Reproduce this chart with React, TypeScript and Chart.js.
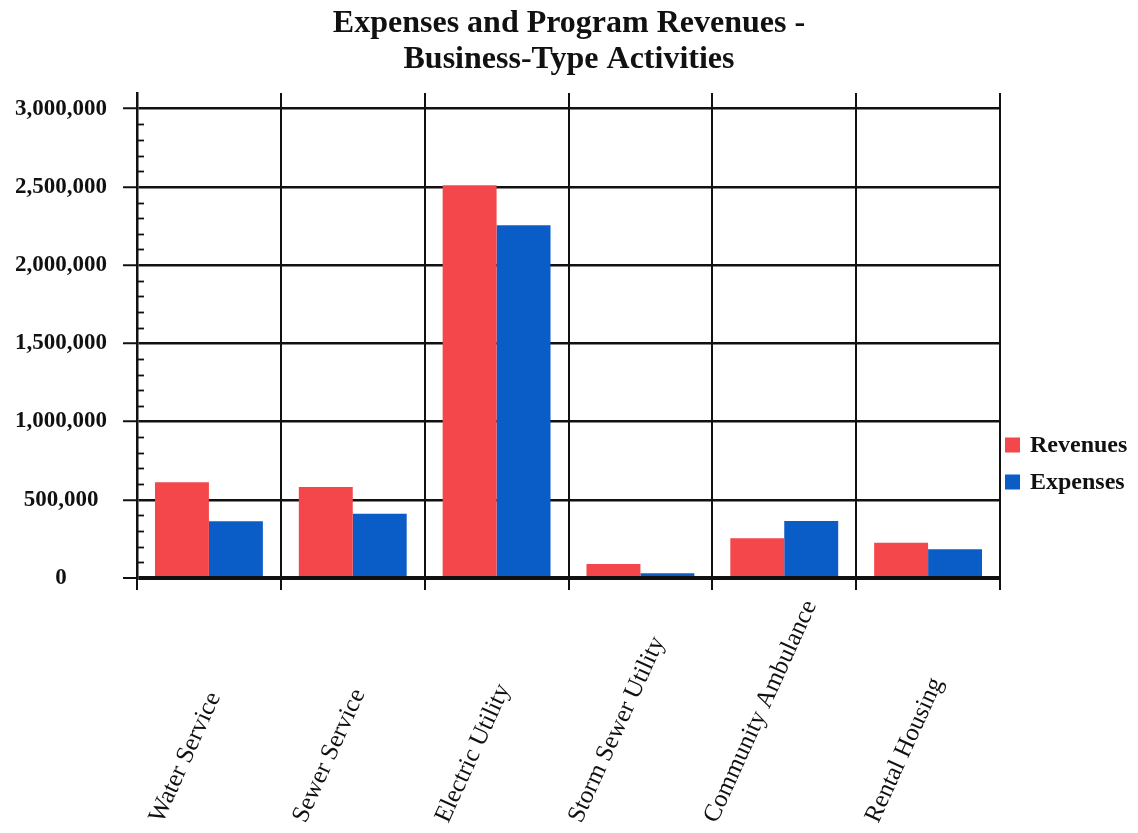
import React, { useEffect, useRef } from 'react';
import { Chart, registerables } from 'chart.js';

Chart.register(...registerables);

const categories = [
  'Water Service',
  'Sewer Service',
  'Electric Utility',
  'Storm Sewer Utility',
  'Community Ambulance',
  'Rental Housing',
];
const revenues = [612000, 582000, 2510000, 90000, 254000, 226000];
const expenses = [362000, 411000, 2255000, 30000, 365000, 183000];
const seriesNames = ['Revenues', 'Expenses'];
const seriesColors = ['#F4474B', '#0A5CC7'];
const titleLines = ['Expenses and Program Revenues -', 'Business-Type Activities'];
const yTickValues = [0, 500000, 1000000, 1500000, 2000000, 2500000, 3000000];
const yAxisTop = 3100000;
const yMinorStep = 100000;

const W = 1138;
const H = 833;
const SERIF = '"Liberation Serif", "Times New Roman", serif';

const minorTicksPlugin = {
  id: 'minorTicks',
  afterDraw(chart: any) {
    const ys = chart.scales.y;
    const a = chart.chartArea;
    const ctx = chart.ctx;
    const top = yTickValues[yTickValues.length - 1];
    ctx.save();
    ctx.strokeStyle = '#111';
    ctx.lineWidth = 1.8;
    for (let v = yMinorStep; v < top; v += yMinorStep) {
      if (yTickValues.includes(v)) continue;
      const y = Math.round(ys.getPixelForValue(v)) + 0.5;
      ctx.beginPath();
      ctx.moveTo(a.left, y);
      ctx.lineTo(a.left + 7, y);
      ctx.stroke();
    }
    ctx.restore();
  },
};

const xLabelsPlugin = {
  id: 'slantedLabels',
  afterDraw(chart: any) {
    const xs = chart.scales.x;
    const a = chart.chartArea;
    const ctx = chart.ctx;
    const th = (65.5 * Math.PI) / 180;
    ctx.save();
    ctx.font = `25px ${SERIF}`;
    ctx.fillStyle = '#111';
    const labels = chart.data.labels as string[];
    labels.forEach((lab, i) => {
      const c = xs.getPixelForTick(i);
      const w = ctx.measureText(lab).width;
      const px = c - 17.5 - (w * Math.cos(th)) / 2;
      const py = a.bottom + 246;
      ctx.save();
      ctx.translate(px, py);
      ctx.rotate(-th);
      ctx.textAlign = 'left';
      ctx.textBaseline = 'alphabetic';
      ctx.fillText(lab, 0, 0);
      ctx.restore();
    });
    ctx.restore();
  },
};

const sideLegendPlugin = {
  id: 'sideLegend',
  afterDraw(chart: any) {
    const a = chart.chartArea;
    const ctx = chart.ctx;
    ctx.save();
    ctx.font = `bold 24px ${SERIF}`;
    ctx.textAlign = 'left';
    ctx.textBaseline = 'middle';
    chart.data.datasets.forEach((ds: any, i: number) => {
      const y = a.top + 352 + i * 37;
      ctx.fillStyle = ds.backgroundColor;
      ctx.fillRect(a.right + 5, y - 7.5, 15, 15);
      ctx.fillStyle = '#111';
      ctx.fillText(ds.label, a.right + 30, y + 1);
    });
    ctx.restore();
  },
};

export default function App() {
  const ref = useRef<HTMLCanvasElement | null>(null);

  useEffect(() => {
    if (!ref.current) return;
    const chart = new Chart(ref.current, {
      type: 'bar',
      data: {
        labels: categories,
        datasets: [
          {
            label: seriesNames[0],
            data: revenues,
            backgroundColor: seriesColors[0],
            borderWidth: 0,
            categoryPercentage: 0.75,
            barPercentage: 1,
          },
          {
            label: seriesNames[1],
            data: expenses,
            backgroundColor: seriesColors[1],
            borderWidth: 0,
            categoryPercentage: 0.75,
            barPercentage: 1,
          },
        ],
      },
      options: {
        responsive: false,
        animation: false,
        layout: { padding: 0 },
        plugins: {
          legend: { display: false },
          tooltip: { enabled: false },
          title: {
            display: true,
            text: titleLines,
            color: '#111',
            font: { family: SERIF, size: 32, weight: 'bold', lineHeight: 1.125 },
            padding: { top: 6, bottom: 15 },
          },
        },
        scales: {
          x: {
            offset: true,
            grid: {
              offset: true,
              color: '#111',
              lineWidth: 2,
              tickLength: 12,
              drawTicks: true,
              tickColor: '#111',
              tickWidth: 2,
            },
            border: { display: false },
            ticks: { display: false },
            afterFit: (s: any) => {
              s.height = 255;
            },
          },
          y: {
            min: yTickValues[0],
            max: yAxisTop,
            z: 1,
            afterBuildTicks: (s: any) => {
              s.ticks = yTickValues.map((v) => ({ value: v }));
            },
            afterFit: (s: any) => {
              s.width = 137;
            },
            grid: {
              color: '#111',
              lineWidth: (c: any) => (c.tick && c.tick.value === 0 ? 4 : 2.5),
              tickLength: 14,
              tickColor: '#111',
              tickWidth: 2,
            },
            border: { display: true, color: '#111', width: 2.5 },
            ticks: {
              crossAlign: 'center',
              padding: 16,
              color: '#111',
              font: { family: SERIF, size: 23, weight: 'bold' },
              callback: (v: any) => Number(v).toLocaleString('en-US'),
            },
          },
          legendSpace: {
            type: 'linear',
            position: 'right',
            display: true,
            grid: { display: false, drawTicks: false },
            border: { display: false },
            ticks: { display: false },
            afterFit: (s: any) => {
              s.width = 138;
            },
          },
        },
      },
      plugins: [minorTicksPlugin, xLabelsPlugin, sideLegendPlugin],
    });
    return () => chart.destroy();
  }, []);

  return (
    <div style={{ position: 'fixed', left: 0, top: 0, width: W, height: H, background: '#fff' }}>
      <canvas ref={ref} width={W} height={H} style={{ display: 'block', width: W, height: H }} />
    </div>
  );
}
